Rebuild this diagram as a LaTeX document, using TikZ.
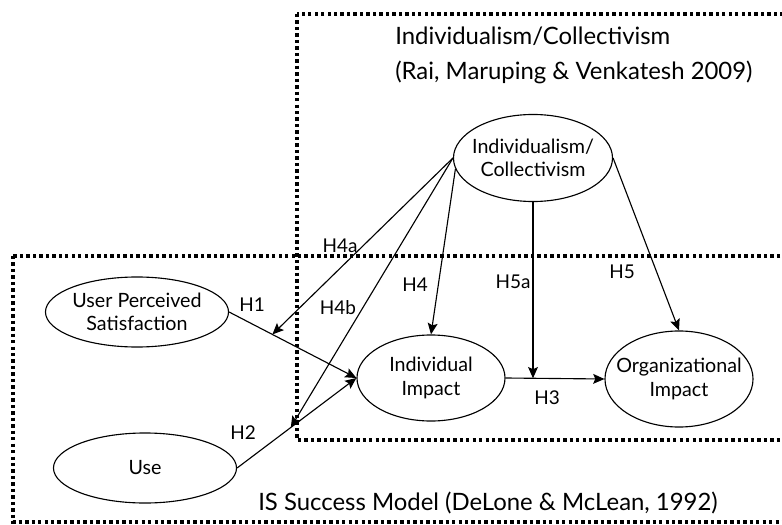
\documentclass[tikz,border=0pt]{standalone}
\usepackage{fontspec}
\setmainfont{Lato}
\usetikzlibrary{shapes,arrows.meta,positioning}

\begin{document}
\begin{tikzpicture}
  [
    x=0.025cm, y=-0.025cm,
    Oval/.style={ellipse, draw=black, thick, inner sep=0pt},
    OvalText/.style={align=center, font=\fontsize{14}{16.5}\selectfont},
    Frame/.style={draw=black, line width=2.4pt, dash pattern=on 2.4pt off 2.2pt},
    Hyp/.style={inner sep=0pt, font=\fontsize{13.5}{16}\selectfont},
    Title/.style={inner sep=0pt, align=left, font=\fontsize{17}{24.8}\selectfont},
    Link/.style={-{Stealth[length=8pt, width=7pt, inset=1.5pt]}, draw, thick}
  ]
  \clip (0,0) rectangle (782,525);

  % Frames
  \path [Frame] (297,14) rectangle (800,440);
  \path [Frame] (13,256) rectangle (800,522);
  \node[Title, anchor=west] (ictitle) at (395,55.5) {Individualism/Collectivism\\(Rai, Maruping \& Venkatesh 2009)};
  \node[Title, anchor=west] (istitle) at (258,503) {IS Success Model (DeLone \& McLean, 1992)};

  % Nodes
  \node[Oval, minimum width=3.975cm, minimum height=2.175cm,
    label={[OvalText]center:{Individualism/\\Collectivism}}] (ic) at (533,158) {};
  \node[Oval, minimum width=4.575cm, minimum height=1.75cm,
    label={[OvalText]center:{User Perceived\\Satisfaction}}] (ups) at (137,312) {};
  \node[Oval, minimum width=4.575cm, minimum height=1.75cm,
    label={[OvalText]center:{Use}}] (use) at (145,468) {};
  \node[Oval, minimum width=3.7cm, minimum height=2.15cm,
    label={[OvalText]center:{Individual\\Impact}}] (ii) at (431,378) {};
  \node[Oval, minimum width=3.7cm, minimum height=2.4cm,
    label={[OvalText]center:{Organizational\\Impact}}] (oi) at (679,379) {};

  % Lines
  \path [Link] (ups.east) -- coordinate[pos=0.34] (h1pt) (ii.west);
  \path [Link] (use.east) -- coordinate[pos=0.45] (h2pt) (ii.west);
  \path [Link] (ii.east) -- coordinate[pos=0.3] (h3pt) (oi.west);
  \path [Link] (ic.west) -- (h1pt);
  \path [Link] (ic.west) -- (h2pt);
  \path [Link] (ic.188) -- (ii.north);
  \path [Link] (ic.south) -- (ic.south |- h3pt);
  \path [Link] (ic.east) -- (oi.north);

  % Labels
  \node[Hyp] (lh1) at (252,305) {H1};
  \node[Hyp] (lh2) at (243,433) {H2};
  \node[Hyp] (lh3) at (547,398) {H3};
  \node[Hyp] (lh4) at (415,285) {H4};
  \node[Hyp] (lh4a) at (340,246) {H4a};
  \node[Hyp] (lh4b) at (338,308) {H4b};
  \node[Hyp] (lh5a) at (513,282) {H5a};
  \node[Hyp] (lh5) at (622,272) {H5};

\end{tikzpicture}
\end{document}
